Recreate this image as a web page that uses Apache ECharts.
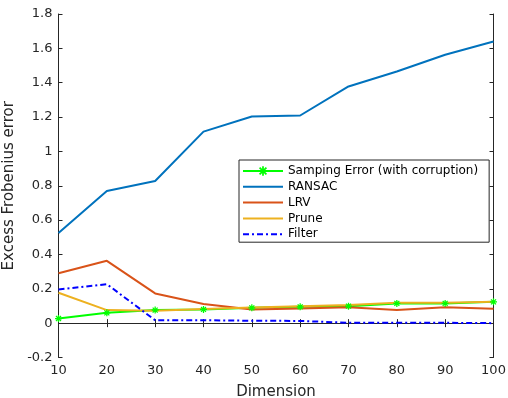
<!DOCTYPE html>
<html>
<head>
<meta charset="utf-8">
<script src="https://cdn.jsdelivr.net/npm/echarts@6/dist/echarts.min.js"></script>
<style>
  html, body { margin: 0; padding: 0; background: #fff; }
  #chart { width: 508px; height: 398px; }
</style>
</head>
<body>
<div id="chart"></div>
<script>
// data
const dims = [10, 20, 30, 40, 50, 60, 70, 80, 90, 100];
const sampling = [0.027, 0.060, 0.076, 0.080, 0.089, 0.095, 0.099, 0.115, 0.115, 0.124];
const ransac = [0.525, 0.770, 0.828, 1.115, 1.203, 1.209, 1.378, 1.465, 1.563, 1.640];
const lrv = [0.290, 0.363, 0.173, 0.111, 0.080, 0.086, 0.092, 0.076, 0.092, 0.084];
const prune = [0.177, 0.076, 0.072, 0.082, 0.091, 0.099, 0.105, 0.119, 0.119, 0.124];
const filter = [0.196, 0.227, 0.017, 0.017, 0.014, 0.013, 0.002, 0.002, 0.002, 0.000];
const names = ['Samping Error (with corruption)', 'RANSAC', 'LRV', 'Prune', 'Filter'];

const pairs = arr => dims.map((d, i) => [d, arr[i]]);

// matlab style '*' marker
const star = 'path://M-0.9,-5L0.9,-5L0.9,5L-0.9,5Z M-5,-0.9L5,-0.9L5,0.9L-5,0.9Z ' +
  'M-4.2,-2.9L-2.9,-4.2L4.2,2.9L2.9,4.2Z M2.9,-4.2L4.2,-2.9L-2.9,4.2L-4.2,2.9Z';

const axisCol = '#262626';
const font = 'DejaVu Sans';
const noDot = { color: 'rgba(0,0,0,0)', borderColor: 'rgba(0,0,0,0)', borderWidth: 0 };

const boxAxis = {
  axisLine: { show: true, lineStyle: { color: axisCol, width: 1 } },
  axisTick: { show: true, inside: true, length: 4, lineStyle: { color: axisCol } },
  splitLine: { show: false }
};

const chart = echarts.init(document.getElementById('chart'));
chart.setOption({
  animation: false,
  textStyle: { fontFamily: font },
  grid: { left: 58.5, right: 14.5, top: 14, bottom: 40.5, containLabel: false, outerBoundsMode: 'none' },
  legend: {
    orient: 'vertical',
    left: 239, top: 160,
    itemWidth: 40, itemHeight: 12, itemGap: 3.8,
    padding: [5, 11, 2, 3],
    backgroundColor: '#fff',
    borderColor: '#262626', borderWidth: 1,
    textStyle: { fontSize: 12, lineHeight: 12, color: '#000', fontFamily: font },
    data: [
      { name: names[0] },
      { name: names[1], itemStyle: noDot },
      { name: names[2], itemStyle: noDot },
      { name: names[3], itemStyle: noDot },
      { name: names[4], itemStyle: noDot }
    ]
  },
  xAxis: [{
    type: 'value', min: 10, max: 100, interval: 10,
    name: 'Dimension', nameLocation: 'middle', nameGap: 27,
    nameTextStyle: { fontSize: 15, color: axisCol, fontFamily: font },
    axisLabel: { fontSize: 13, color: axisCol, margin: 7, fontFamily: font },
    ...boxAxis
  }, {
    type: 'value', min: 10, max: 100, interval: 10, position: 'top',
    axisLabel: { show: false }, ...boxAxis
  }],
  yAxis: [{
    type: 'value', min: -0.2, max: 1.8, interval: 0.2,
    name: 'Excess Frobenius error', nameLocation: 'middle', nameGap: 35,
    nameTextStyle: { fontSize: 15, color: axisCol, fontFamily: font },
    axisLabel: { fontSize: 13, color: axisCol, margin: 6, fontFamily: font },
    ...boxAxis
  }, {
    type: 'value', min: -0.2, max: 1.8, interval: 0.2, position: 'right',
    axisLabel: { show: false }, ...boxAxis
  }],
  series: [
    {
      name: names[0], type: 'line', data: pairs(sampling),
      symbol: star, symbolSize: 7, showAllSymbol: true,
      lineStyle: { color: '#00ff00', width: 2 }, itemStyle: { color: '#00ff00' }
    },
    {
      name: names[1], type: 'line', data: pairs(ransac), showSymbol: false, symbol: 'none',
      lineStyle: { color: '#0072bd', width: 2 }, itemStyle: { color: '#0072bd' }
    },
    {
      name: names[2], type: 'line', data: pairs(lrv), showSymbol: false, symbol: 'none',
      lineStyle: { color: '#d95319', width: 2 }, itemStyle: { color: '#d95319' }
    },
    {
      name: names[3], type: 'line', data: pairs(prune), showSymbol: false, symbol: 'none',
      lineStyle: { color: '#edb120', width: 2 }, itemStyle: { color: '#edb120' }
    },
    {
      name: names[4], type: 'line', data: pairs(filter), showSymbol: false, symbol: 'none',
      lineStyle: { color: '#0000ff', width: 2, type: [6, 3, 2, 3] }, itemStyle: { color: '#0000ff' }
    }
  ]
});
</script>
</body>
</html>
